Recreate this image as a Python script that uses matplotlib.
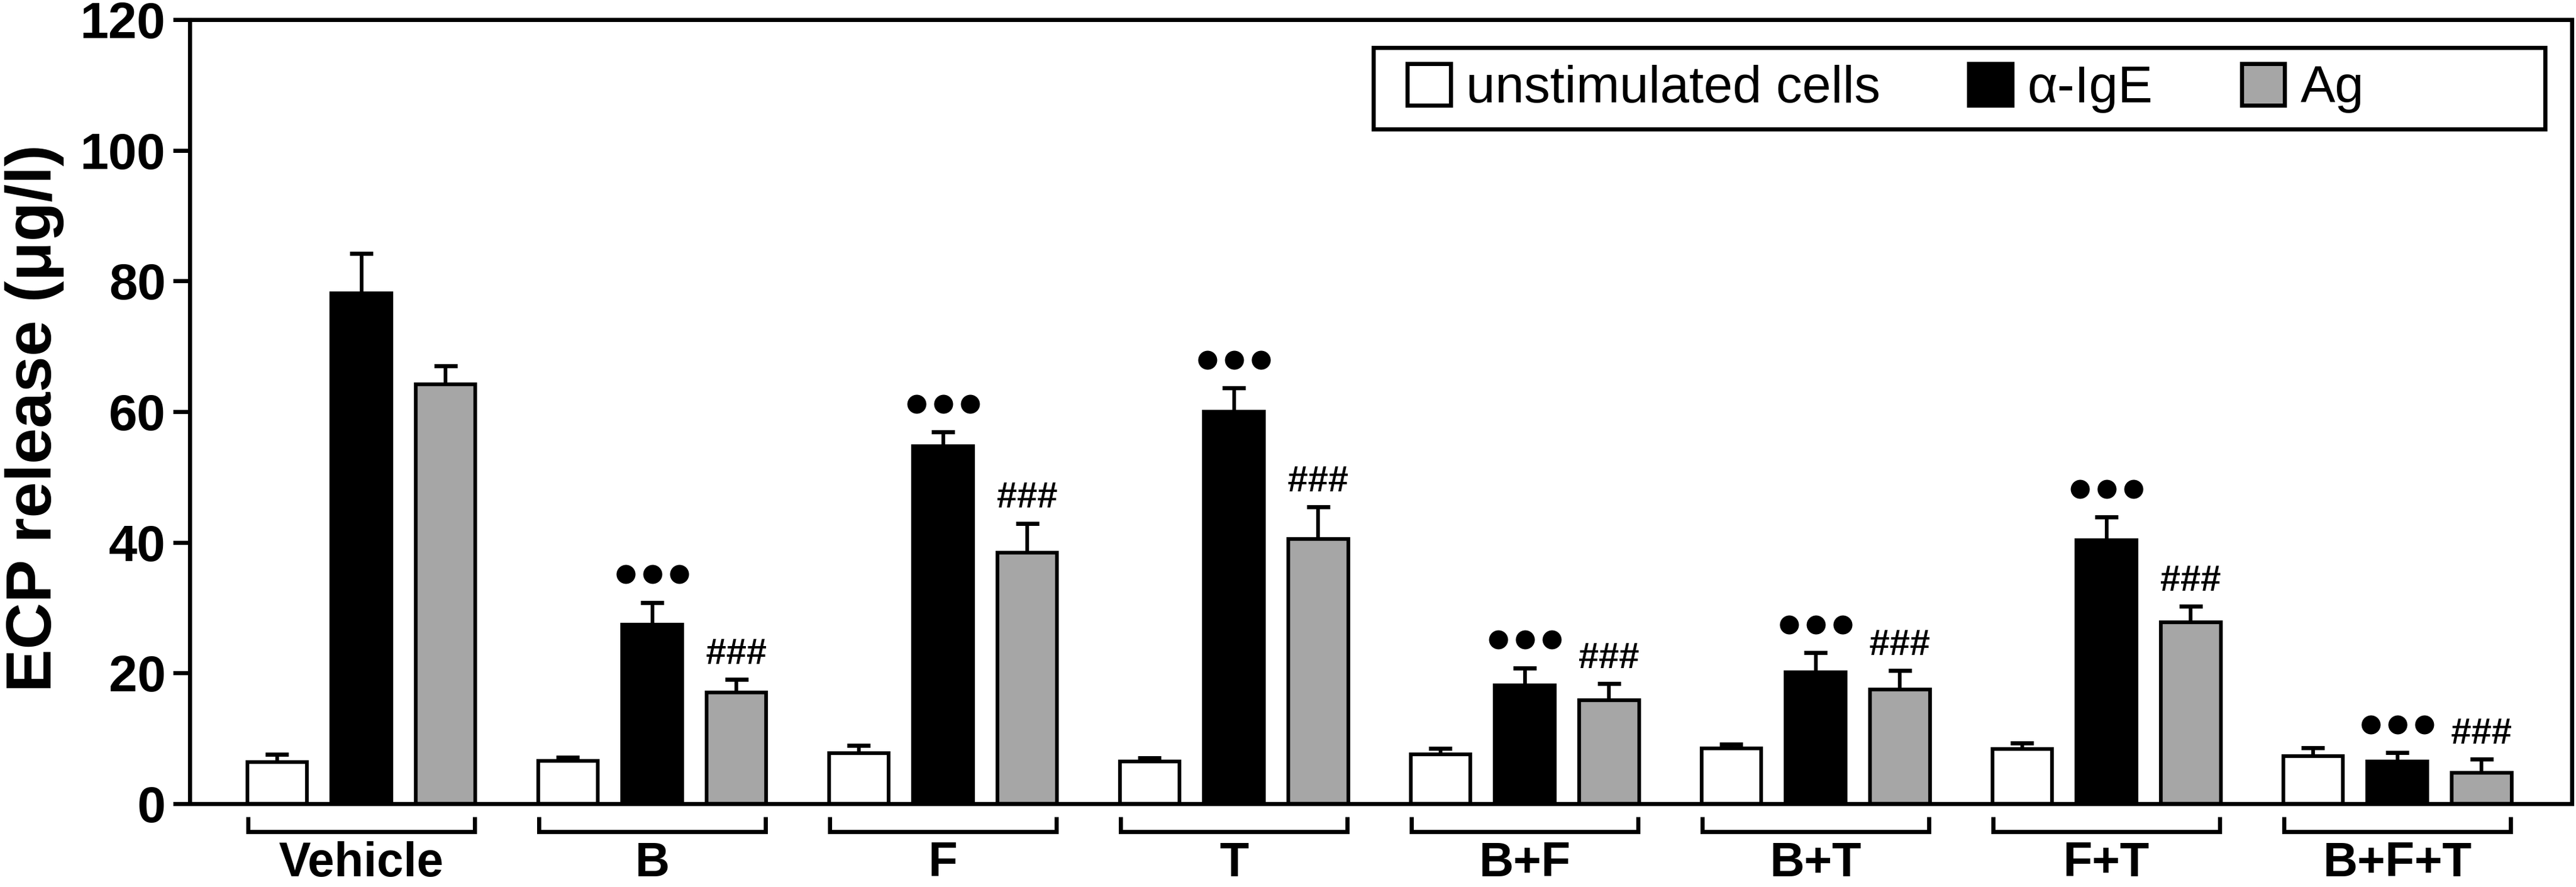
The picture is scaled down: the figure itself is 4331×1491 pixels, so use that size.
import matplotlib
matplotlib.use('Agg')
import matplotlib.pyplot as plt
import matplotlib.transforms as mtransforms
from matplotlib.patches import Patch, Rectangle
import numpy as np

# ---------------- data ----------------
groups = ['Vehicle', 'B', 'F', 'T', 'B+F', 'B+T', 'F+T', 'B+F+T']
series_labels = ['unstimulated cells', 'α-IgE', 'Ag']

unstim = [6.4, 6.6, 7.7, 6.45, 7.6, 8.45, 8.35, 7.3]
unstim_err = [1.2, 0.5, 1.2, 0.6, 0.9, 0.65, 0.9, 1.3]

aige = [78.1, 27.4, 54.7, 60.0, 18.1, 20.1, 40.3, 6.5]
aige_err = [6.1, 3.4, 2.2, 3.6, 2.7, 3.0, 3.6, 1.35]

ag = [64.2, 17.0, 38.4, 40.5, 15.8, 17.5, 27.8, 4.7]
ag_err = [2.8, 2.0, 4.5, 4.9, 2.6, 2.9, 2.4, 2.1]

sig_aige = [False, True, True, True, True, True, True, True]   # ●●●
sig_ag = [False, True, True, True, True, True, True, True]     # ###

yticks = [0, 20, 40, 60, 80, 100, 120]
ylabel = 'ECP release (μg/l)'

# ---------------- style ----------------
plt.rcParams['font.family'] = ['Liberation Sans', 'DejaVu Sans']
colors = ['white', 'black', '#a6a6a6']
offsets = [-0.29, 0.0, 0.29]
bw = 0.205
LW = 5

fig = plt.figure(figsize=(43.31, 14.91), dpi=100)
ax = fig.add_axes([0.07366, 0.09390, 0.92473, 0.88397])

x = np.arange(len(groups))
data = [(unstim, unstim_err), (aige, aige_err), (ag, ag_err)]

tops_all = []
for (vals, errs), col, off in zip(data, colors, offsets):
    xs = x + off
    vals = np.array(vals)
    tops = vals + np.array(errs)
    tops_all.append(tops)
    ax.bar(xs, vals, bw, color=col, edgecolor='black', linewidth=4.5, zorder=3)
    ax.vlines(xs, vals, tops, color='black', lw=4.5, zorder=2)
    ax.hlines(tops, xs - 0.04, xs + 0.04, color='black', lw=5, zorder=2)

# significance markers
for i in range(len(groups)):
    if sig_aige[i]:
        ax.plot(x[i] + offsets[1] + np.array([-0.092, 0, 0.092]),
                [tops_all[1][i] + 4.3] * 3, 'o', color='black', ms=23,
                mew=0, clip_on=False, zorder=4)
    if sig_ag[i]:
        ax.text(x[i] + offsets[2], tops_all[2][i] + 2.4, '###', ha='center',
                va='baseline', fontsize=44, fontweight='bold', zorder=4)

# group brackets and labels
trans = mtransforms.blended_transform_factory(ax.transData, ax.transAxes)
for i, g in enumerate(groups):
    ax.plot([i - 0.39, i - 0.39, i + 0.39, i + 0.39],
            [-0.0167, -0.036, -0.036, -0.0167], transform=trans,
            color='black', lw=LW, clip_on=False, solid_joinstyle='miter',
            solid_capstyle='butt')
    ax.text(i, -0.0925, g, transform=trans, ha='center', va='baseline',
            fontsize=58, fontweight='bold')

ax.set_xlim(-0.59, 7.60)
ax.set_ylim(0, 120)
ax.set_yticks(yticks)
ax.set_yticklabels([str(t) for t in yticks], fontweight='bold')
ax.tick_params(axis='y', direction='out', length=20, width=LW, pad=9,
               labelsize=62)
ax.tick_params(axis='x', bottom=False, labelbottom=False)
for s in ax.spines.values():
    s.set_linewidth(LW)
    s.set_color('black')

# legend with its own wide frame
ax.add_patch(Rectangle((0.4969, 0.8604), 0.4919, 0.1039, transform=ax.transAxes,
                       facecolor='white', edgecolor='black', lw=LW, zorder=5))
handles = [Patch(facecolor=c, edgecolor='black', lw=LW) for c in colors]
leg = ax.legend(handles, series_labels, loc='center left',
                bbox_to_anchor=(0.5111, 0.9124), ncol=3, frameon=False,
                fontsize=63, handlelength=0.83, handleheight=0.86,
                handletextpad=0.3, columnspacing=1.7, borderpad=0,
                borderaxespad=0)
leg.set_zorder(6)

fig.text(58 / 4331, 0.5285, ylabel, rotation=90, ha='center', va='center',
         fontsize=78, fontweight='bold')

fig.savefig('out.png', dpi=100)
